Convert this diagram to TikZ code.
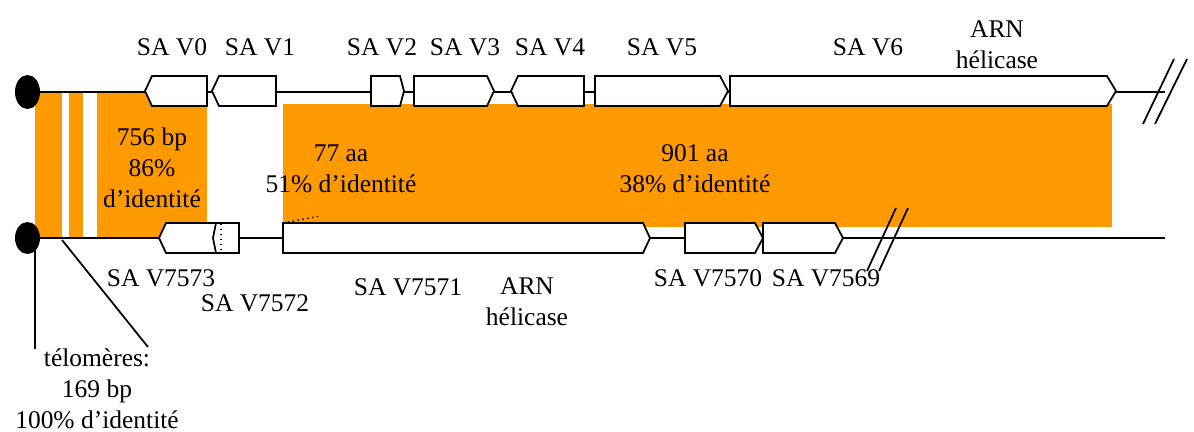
\documentclass[tikz,border=0pt]{standalone}
\usepackage{fontspec}
\setmainfont{Liberation Serif}
\usepackage{xcolor}
\usepackage{tikz}
\usetikzlibrary{calc, positioning}

\definecolor{orangeid}{RGB}{255,153,0}

\tikzset{
  brin/.style={line width=1pt},
  genebox/.style={draw, fill=white, line width=1pt, line join=miter},
  lbl/.style={align=center, inner sep=0pt, font=\fontsize{14.5}{17.6}\selectfont},
}

% gene vers la droite : debut, fin du plat, pointe, y du centre
\newcommand{\geneR}[4]{%
  \draw[genebox] (#1,#4-15) -- (#2,#4-15) -- (#3,#4) -- (#2,#4+15) -- (#1,#4+15) -- cycle;}
% gene vers la gauche : pointe, debut du plat, fin, y du centre
\newcommand{\geneL}[4]{%
  \draw[genebox] (#1,#4) -- (#2,#4-15) -- (#3,#4-15) -- (#3,#4+15) -- (#2,#4+15) -- cycle;}

\begin{document}
\begin{tikzpicture}[x=0.02cm, y=-0.02cm, >=stealth]
    \useasboundingbox (0,0) rectangle (1194,432);

    % =================================================================
    % 1. POINTS PRINCIPAUX (unite = 1 pixel, y vers le bas)
    % =================================================================
    \coordinate (T0) at (27.5,92);
    \coordinate (T1) at (1165,92);
    \coordinate (B0) at (27.5,238);
    \coordinate (B1) at (1165,238);

    % =================================================================
    % 2. ZONES D'IDENTITE (orange)
    % =================================================================
    \fill[orangeid] (35,92) rectangle (62,238);
    \fill[orangeid] (69,92) rectangle (83,238);
    \fill[orangeid] (97,92) rectangle (207,238);
    \fill[orangeid] (283,104) rectangle (1112,227);

    % =================================================================
    % 3. LES DEUX CHROMOSOMES ET LES COUPURES
    % =================================================================
    \draw[brin] (T0) -- (T1);
    \draw[brin] (B0) -- (B1);

    \draw[brin] (1143,124) -- (1174,59);
    \draw[brin] (1155,124) -- (1187,59);
    \draw[brin] (867,271) -- (896,208);
    \draw[brin] (879,271) -- (908,208);

    % =================================================================
    % 4. GENES DU HAUT
    % =================================================================
    \geneL{145}{152}{207}{91}   % SAV0
    \geneL{212}{219}{276}{91}   % SAV1
    \geneR{371}{400}{404}{91}   % SAV2
    \geneR{414}{487}{494}{91}   % SAV3
    \geneL{511}{518}{584}{91}   % SAV4
    \geneR{595}{720}{728}{91}   % SAV5
    \geneR{730}{1107}{1116}{91} % SAV6

    % =================================================================
    % 5. GENES DU BAS
    % =================================================================
    % SAV7573 (bord droit en pointille)
    \fill[white] (159,238) -- (166,223) -- (221,223) -- (221,253) -- (166,253) -- cycle;
    \draw[brin, line join=miter] (221,223) -- (166,223) -- (159,238) -- (166,253) -- (221,253);
    \geneL{213}{216}{239}{238}  % SAV7572
    \draw[thick, dotted] (221,224) -- (221,252);
    \geneR{283}{643}{650}{238}  % SAV7571
    \draw[thick, dotted] (283,223) -- (320,216);
    \geneR{685}{755}{763}{238}  % SAV7570
    \geneR{763}{835}{843}{238}  % SAV7569

    % telomeres
    \fill (T0) ellipse [x radius=12.5, y radius=17];
    \fill (B0) ellipse [x radius=12.5, y radius=16];
    \coordinate (P1) at (35,349);
    \coordinate (P2) at (148,347);
    \draw[brin] (35,250) -- (P1);
    \draw[brin] (62,240) -- (P2);

    % =================================================================
    % 6. NOMS DES GENES
    % =================================================================
    \node[lbl] (n0) at (172,47) {SA V0};
    \node[lbl] (n1) at (260,47) {SA V1};
    \node[lbl] (n2) at (382,47) {SA V2};
    \node[lbl] (n3) at (465,47) {SA V3};
    \node[lbl] (n4) at (550,47) {SA V4};
    \node[lbl] (n5) at (662,47) {SA V5};
    \node[lbl] (n6) at (868,47) {SA V6};
    \node[lbl] (h6) at (997,45) {ARN\\hélicase};

    \node[lbl] (m3) at (161,278) {SA V7573};
    \node[lbl] (m2) at (255,303) {SA V7572};
    \node[lbl] (m1) at (408,287) {SA V7571};
    \node[lbl] (h1) at (527,302) {ARN\\hélicase};
    \node[lbl] (m0) at (708,278) {SA V7570};
    \node[lbl] (m9) at (826,278) {SA V7569};

    % =================================================================
    % 7. POURCENTAGES D'IDENTITE
    % =================================================================
    \node[lbl] (id1) at (152,168) {756 bp\\86\%\\d’identité};
    \node[lbl] (id2) at (341,169) {77 aa\\51\% d’identité};
    \node[lbl] (id3) at (695,169) {901 aa\\38\% d’identité};
    \node[lbl] (tel) at (97,389) {télomères:\\169 bp\\100\% d’identité};

\end{tikzpicture}
\end{document}
